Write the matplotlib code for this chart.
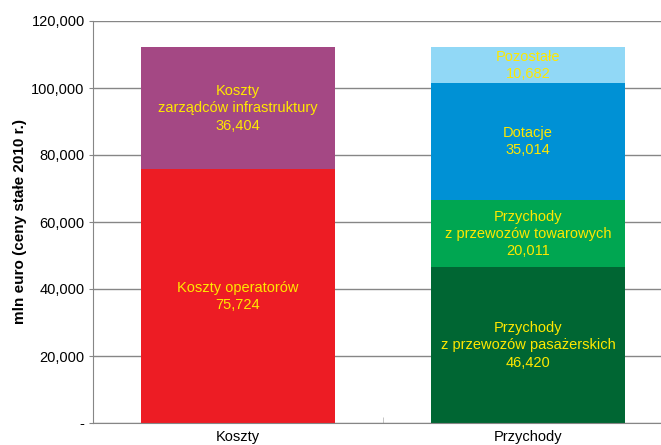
import numpy as np
import matplotlib.pyplot as plt
from matplotlib.ticker import FixedLocator

plt.rcParams['font.family'] = ['Liberation Sans', 'DejaVu Sans']

kategorie = ["Koszty", "Przychody"]

# segmenty kolumny "Koszty"
koszty_nazwy = ["Koszty operatorów", "Koszty\nzarządców infrastruktury"]
koszty_wart = [75724, 36404]
koszty_kol = ["#ED1C24", "#A44884"]

# segmenty kolumny "Przychody"
przych_nazwy = ["Przychody\nz przewozów pasażerskich", "Przychody\nz przewozów towarowych",
                "Dotacje", "Pozostałe"]
przych_wart = [46420, 20011, 35014, 10682]
przych_kol = ["#006633", "#00A651", "#0091D5", "#91D8F6"]

yticks = [0, 20000, 40000, 60000, 80000, 100000, 120000]
yticklabels = ["-", "20,000", "40,000", "60,000", "80,000", "100,000", "120,000"]

fig = plt.figure(figsize=(6.61, 4.45), dpi=100)
ax = fig.add_axes([93 / 661, 22 / 445, 580 / 661, 402 / 445])

szer = 0.666
tekst_kol = "#FFE800"


def slupek(x, nazwy, wart, kolory):
    dol = 0
    for n, v, c in zip(nazwy, wart, kolory):
        ax.bar(x, v, bottom=dol, width=szer, color=c, zorder=3)
        ax.text(x, dol + v / 2, n + "\n" + format(v, ",d"), ha="center", va="center",
                color=tekst_kol, fontsize=10.5, linespacing=1.3, zorder=4)
        dol += v


slupek(0, koszty_nazwy, koszty_wart, koszty_kol)
slupek(1, przych_nazwy, przych_wart, przych_kol)

ax.set_xlim(-0.5, 1.5)
ax.set_ylim(0, 120000)
ax.set_yticks(yticks)
ax.set_yticklabels(yticklabels, fontsize=10.5)
ax.set_xticks([0, 1])
ax.set_xticklabels(kategorie, fontsize=10.5)
ax.xaxis.set_minor_locator(FixedLocator([0.5]))
ax.tick_params(axis="x", which="major", length=0, pad=5)
ax.tick_params(axis="x", which="minor", length=4, color="#BBBBBB", direction="in")
ax.tick_params(axis="y", length=3, color="#868686", pad=3)

ax.yaxis.grid(True, color="#868686", linewidth=1, zorder=0)
for s in ["top", "right"]:
    ax.spines[s].set_visible(False)
for s in ["left", "bottom"]:
    ax.spines[s].set_color("#868686")
    ax.spines[s].set_zorder(5)

ax.set_ylabel("mln euro (ceny stałe 2010 r.)", fontsize=11, fontweight="bold", labelpad=3)

fig.savefig("out.png", dpi=100)
